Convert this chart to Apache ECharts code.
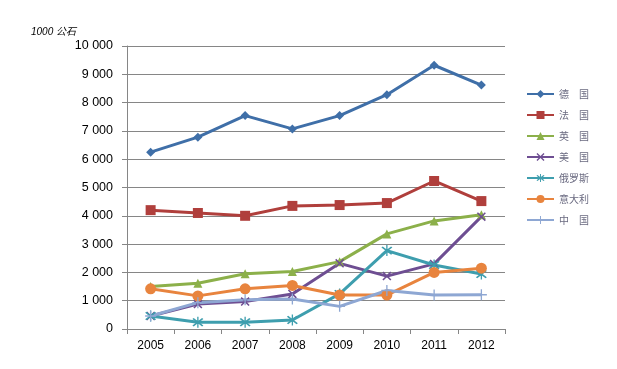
<!DOCTYPE html>
<html><head><meta charset="utf-8">
<script src="https://cdn.jsdelivr.net/npm/echarts@6/dist/echarts.min.js"></script>
<style>html,body{margin:0;padding:0;background:#fff}#c{width:617px;height:369px}</style>
</head><body><div id="c"></div>
<script>
var years = ['2005','2006','2007','2008','2009','2010','2011','2012'];
var names = ['德\u3000国','法\u3000国','英\u3000国','美\u3000国','俄罗斯','意大利','中\u3000国'];
var germany = [6250, 6780, 7540, 7070, 7540, 8280, 9320, 8620];
var france  = [4200, 4100, 4000, 4350, 4380, 4450, 5230, 4520];
var uk      = [1500, 1620, 1950, 2030, 2380, 3360, 3820, 4040];
var usa     = [460, 880, 970, 1240, 2320, 1870, 2300, 3970];
var russia  = [460, 240, 240, 320, 1240, 2770, 2260, 1940];
var italy   = [1420, 1170, 1420, 1540, 1200, 1200, 2000, 2150];
var china   = [460, 930, 1030, 1060, 800, 1360, 1200, 1210];
var unitLabel = '1000 公石';

var colors = ['#3F6FA8','#B03F3C','#8CB04A','#6E4E92','#3E9EAE','#E8843E','#8EA7D3'];
var symX = 'path://M0,1.2L1.2,0L10,8.8L8.8,10Z M8.8,0L10,1.2L1.2,10L0,8.8Z';
var symStar = 'path://M0,1.2L1.2,0L10,8.8L8.8,10Z M8.8,0L10,1.2L1.2,10L0,8.8Z M4.4,-1.5h1.2v13h-1.2Z';
var symPlus = 'path://M4.4,0h1.2v10h-1.2Z M0,4.4h10v1.2h-10Z';
var symbols = ['diamond','rect','triangle',symX,symStar,'circle',symPlus];
var sizes = [9,10,9,9,11,11,11];
var datas = [germany, france, uk, usa, russia, italy, china];

var series = datas.map(function(d,i){
  return {
    name: names[i], type:'line', data:d,
    symbol: symbols[i], symbolSize: sizes[i],
    lineStyle:{width:3, color:colors[i]},
    itemStyle:{color:colors[i]},
    showAllSymbol:true, animation:false
  };
});

var chart = echarts.init(document.getElementById('c'));
chart.setOption({
  animation:false,
  color: colors,
  title:{text:unitLabel, left:26, top:22, textStyle:{fontSize:10, fontStyle:'italic', fontWeight:'normal', color:'#000', fontFamily:'Liberation Sans, Noto Sans CJK SC'}},
  grid:{left:127, right:112, top:46, bottom:40},
  legend:{orient:'vertical', left:521, top:84, itemWidth:27, itemHeight:10, itemGap:11,
    textStyle:{fontSize:10, color:'#6a6a80', fontFamily:'Noto Sans CJK SC'}, data:names},
  xAxis:{type:'category', data:years, boundaryGap:true,
    axisLine:{lineStyle:{color:'#868686', width:1}},
    axisTick:{show:true, length:5, lineStyle:{color:'#868686'}},
    axisLabel:{color:'#000', fontSize:12, margin:11, fontFamily:'Liberation Sans'}},
  yAxis:{type:'value', min:0, max:10000, interval:1000,
    axisLine:{show:true, lineStyle:{color:'#868686', width:1}},
    axisTick:{show:true, length:5, lineStyle:{color:'#868686'}},
    splitLine:{lineStyle:{color:'#868686', width:1}},
    axisLabel:{color:'#000', fontSize:12.5, margin:14, fontFamily:'Liberation Sans',
      formatter:function(v){return String(v).replace(/\B(?=(\d{3})+(?!\d))/g,' ');}}},
  series: series
});
</script></body></html>
